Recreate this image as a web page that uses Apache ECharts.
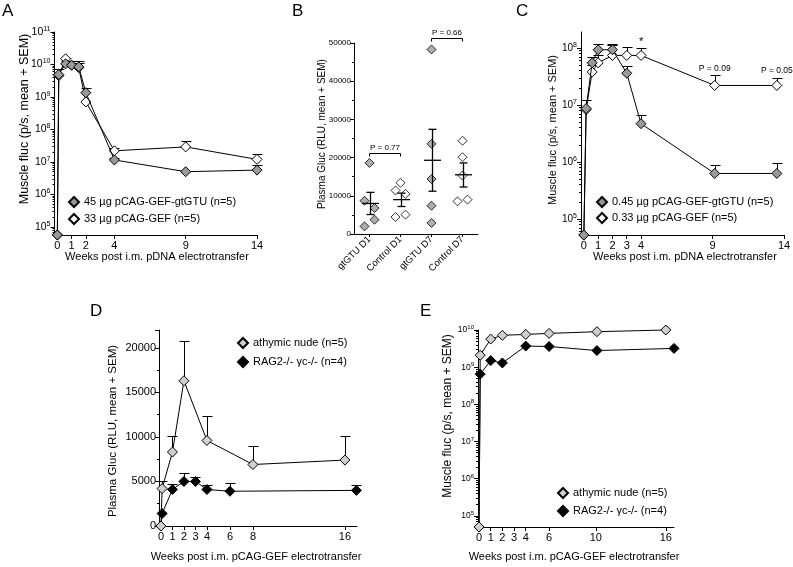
<!DOCTYPE html>
<html><head><meta charset="utf-8">
<script src="https://cdn.jsdelivr.net/npm/echarts@6/dist/echarts.min.js"></script>
<style>html,body{margin:0;padding:0;background:#fff}#c{width:793px;height:567px}</style>
</head><body><div id="c"></div>
<script>
const FONT = '"Liberation Sans", Arial, Helvetica, sans-serif';

// ---------- Panel A ----------
const aWeeks = [0, 0.1, 0.58, 1, 1.5, 2, 4, 9, 14];
const aGtgtuMean  = [0, 4.9e9, 1.05e10, 9.5e9, 8.5e9, 1.35e9, 1.15e7, 5.0e6, 5.6e6];
const aGtgtuUpper = [null, 7.4e9, 1.25e10, 1.3e10, 1.3e10, 1.9e9, 1.35e7, 5.4e6, 8.0e6];
const aGefMean    = [0, 4.5e9, 1.5e10, 9.5e9, 8.0e9, 7.0e8, 2.2e7, 2.9e7, 1.2e7];
const aGefUpper   = [null, null, 1.6e10, null, 1.1e10, null, 2.6e7, 4.5e7, 1.7e7];
const aXTicks = [0, 1, 2, 4, 9, 14];
const aNames = ['45 \u00b5g pCAG-GEF-gtGTU (n=5)', '33 \u00b5g pCAG-GEF (n=5)'];

// ---------- Panel B ----------
const bCategories = ['gtGTU D1', 'Control D1', 'gtGTU D7', 'Control D7'];
const bGtgtuD1   = [18600, 8700, 6800, 3750, 2000];
const bControlD1 = [13400, 11400, 10500, 4450, 5060];
const bGtgtuD7   = [48300, 23600, 14400, 7400, 2900];
const bControlD7 = [24400, 20100, 15300, 8550, 9000];
const bJitterD1G = [0, -5, 5, 5, -5];
const bJitterD1C = [0, -5, 5, -5, 5];
const bJitterD7G = [0, 0, 0, 0, 0];
const bJitterD7C = [0, 0, 0, -5, 5];
const bMean    = [8000, 9000, 19300, 15500];
const bSemLow  = [5100, 7200, 11200, 12300];
const bSemHigh = [10900, 10700, 27400, 18600];
const bPvalues = [['gtGTU D1', 'Control D1', 21200, 'P = 0.77'], ['gtGTU D7', 'Control D7', 51400, 'P = 0.66']];

// ---------- Panel C ----------
const cWeeks = [0, 0.16, 0.58, 1, 2, 3, 4, 9.15, 13.5];
const cGtgtuMean  = [0, 8.7e6, 5.5e7, 9.3e7, 9.3e7, 3.6e7, 4.7e6, 6.3e5, 6.3e5];
const cGtgtuUpper = [null, 1.2e7, 7.0e7, 1.18e8, 1.18e8, 4.8e7, 6.6e6, 8.9e5, 9.5e5];
const cGefMean    = [0, 8.3e6, 3.8e7, 5.5e7, 7.4e7, 7.4e7, 7.4e7, 2.2e7, 2.2e7];
const cGefUpper   = [null, null, 5.0e7, 7.5e7, 1.15e8, 1.05e8, 1.0e8, 3.4e7, 3.0e7];
const cXTicks = [0, 1, 2, 3, 4, 9, 14];
const cNames = ['0.45 \u00b5g pCAG-GEF-gtGTU (n=5)', '0.33 \u00b5g pCAG-GEF (n=5)'];
const cNotes = [[4, 1.3e8, '*'], [9.15, 4.4e7, 'P = 0.09'], [13.5, 4.0e7, 'P = 0.05']];

// ---------- Panel D ----------
const dNudeWeeks = [0, 0.1, 1, 2, 4, 8, 16];
const dNudeMean  = [0, 4200, 8300, 16300, 9600, 6900, 7400];
const dNudeUpper = [null, 5000, 10100, 20800, 12400, 9000, 10100];
const dRagWeeks  = [0, 0.1, 1, 2, 3, 4, 6, 17];
const dRagMean   = [0, 1400, 4100, 5000, 5000, 4100, 3900, 4000];
const dRagUpper  = [null, null, 4700, 6000, 5500, 4550, 4800, 4600];
const dXTicks = [0, 1, 2, 3, 4, 6, 8, 16];

// ---------- Panel E ----------
const eNudeWeeks = [0, 0.1, 1, 2, 4, 6, 10.1, 16];
const eNudeMean  = [0, 2.1e9, 5.7e9, 7.2e9, 7.6e9, 8.1e9, 9.0e9, 1.0e10];
const eRagWeeks  = [0, 0.1, 1, 2, 4, 6, 10.1, 16.7];
const eRagMean   = [0, 6.5e8, 1.5e9, 1.3e9, 3.7e9, 3.6e9, 2.8e9, 3.2e9];
const eXTicks = [0, 1, 2, 3, 4, 6, 10, 16];
const deNames = ['athymic nude (n=5)', 'RAG2-/- \u03b3c-/- (n=4)'];

// ---------- builders ----------
const GRAY = '#9a9a9a', LIGHT = '#cfcfcf', WHITE = '#ffffff', BLACK = '#000000';
const axisLineStyle = {color: '#000', width: 1};

function pairs(xs, ys, floor) {
  return xs.map((x, i) => [x, (floor && ys[i] <= 0) ? floor : ys[i]]);
}
function xVal(gi, min, max, ticks, fs) {
  return {type: 'value', gridIndex: gi, min, max, splitLine: {show: false},
    axisLine: {show: true, onZero: false, lineStyle: axisLineStyle},
    axisTick: {show: true, length: 4, customValues: ticks, lineStyle: {color: '#000'}},
    axisLabel: {customValues: ticks, fontSize: fs, fontFamily: FONT, color: '#000', margin: 5, formatter: v => String(v)}};
}
function logY(gi, lo, hi, fs, sfs) {
  const min = Math.pow(10, lo), max = Math.pow(10, hi);
  const majors = [], minors = [];
  for (let d = Math.ceil(lo); d <= Math.floor(hi); d++) majors.push(Math.pow(10, d));
  for (let d = Math.floor(lo); d < Math.ceil(hi); d++)
    for (let k = 2; k <= 9; k++) { const v = k * Math.pow(10, d); if (v > min && v < max) minors.push(v); }
  const base = {type: 'log', logBase: 10, gridIndex: gi, min, max, position: 'left', splitLine: {show: false}};
  return [
    Object.assign({}, base, {
      axisLine: {show: true, onZero: false, lineStyle: axisLineStyle},
      axisTick: {show: true, length: 4, customValues: majors, lineStyle: {color: '#000'}},
      axisLabel: {customValues: majors, margin: 4,
        formatter: v => '{b|10}{s|' + Math.round(Math.log10(v)) + '}',
        rich: {b: {fontSize: fs, fontFamily: FONT, color: '#000'},
               s: {fontSize: sfs, fontFamily: FONT, color: '#000', padding: [0, 0, Math.round(fs * 0.6), 0]}}}
    }),
    Object.assign({}, base, {
      axisLine: {show: false, onZero: false},
      axisTick: {show: true, length: 2, customValues: minors, lineStyle: {color: '#000'}},
      axisLabel: {show: false}
    })
  ];
}
function lineSeries(name, xi, yi, data, fill, z, size) {
  return {type: 'line', name, xAxisIndex: xi, yAxisIndex: yi, data, symbol: 'diamond',
    symbolSize: size || 10, z, animation: false, silent: true, clip: false,
    lineStyle: {color: '#000', width: 1},
    itemStyle: {color: fill, borderColor: '#000', borderWidth: 1}};
}
function errSeries(xi, yi, xs, means, uppers, capHalf, floor) {
  const data = [];
  xs.forEach((x, i) => { if (uppers[i] != null) data.push([x, means[i] || floor, uppers[i]]); });
  return {type: 'custom', xAxisIndex: xi, yAxisIndex: yi, data, z: 1, silent: true, animation: false,
    encode: {x: 0, y: [1, 2]},
    renderItem(params, api) {
      const p1 = api.coord([api.value(0), api.value(1)]);
      const p2 = api.coord([api.value(0), api.value(2)]);
      const x = Math.round(p1[0]) + 0.5, y2 = Math.round(p2[1]) + 0.5;
      return {type: 'group', children: [
        {type: 'line', shape: {x1: x, y1: p1[1], x2: x, y2: y2}, style: {stroke: '#000', lineWidth: 1}},
        {type: 'line', shape: {x1: x - capHalf, y1: y2, x2: x + capHalf, y2: y2}, style: {stroke: '#000', lineWidth: 1}}
      ]};
    }};
}
function legend(names, left, top, fs, gap) {
  return {data: names, left, top, orient: 'vertical', icon: 'diamond', itemWidth: 10, itemHeight: 10,
    itemGap: gap, selectedMode: false, padding: 0,
    textStyle: {fontSize: fs, fontFamily: FONT, color: '#000', lineHeight: 12}};
}
function text(str, x, y, size, rot, align) {
  return {type: 'text', x, y, rotation: rot || 0, silent: true,
    style: {text: str, fill: '#000', font: size + 'px ' + FONT, align: align || 'center', verticalAlign: 'middle'}};
}

const ALO = 4.75, CLO = 4.72, ELO = 4.7;
const aFloor = Math.pow(10, ALO), cFloor = Math.pow(10, CLO), eFloor = Math.pow(10, ELO);

const yA = logY(0, ALO, 11, 10.5, 7);
const yC = logY(2, CLO, 8.28, 10, 7);
const yE = logY(4, ELO, 10, 8.5, 6);

const option = {
  backgroundColor: '#fff',
  animation: false,
  grid: [
    {left: 54.5, top: 32, width: 202.5, height: 203, outerBoundsMode: 'none'},
    {left: 354, top: 43, width: 124, height: 191, outerBoundsMode: 'none'},
    {left: 581, top: 32, width: 203, height: 203, outerBoundsMode: 'none'},
    {left: 159, top: 330, width: 198, height: 196, outerBoundsMode: 'none'},
    {left: 478, top: 330, width: 196, height: 197, outerBoundsMode: 'none'}
  ],
  xAxis: [
    xVal(0, -0.2, 14, aXTicks, 11),
    {type: 'category', gridIndex: 1, data: bCategories, boundaryGap: true,
      axisLine: {show: true, onZero: false, lineStyle: axisLineStyle},
      axisTick: {show: true, alignWithLabel: true, length: 3, lineStyle: {color: '#000'}},
      axisLabel: {rotate: 45, fontSize: 9.5, fontFamily: FONT, color: '#000', margin: 4, interval: 0}},
    xVal(2, -0.2, 14, cXTicks, 11),
    xVal(3, -0.17, 17.05, dXTicks, 11),
    xVal(4, -0.09, 16.7, eXTicks, 11)
  ],
  yAxis: [
    yA[0], yA[1],
    {type: 'value', gridIndex: 1, min: 0, max: 50000, interval: 10000, position: 'left', splitLine: {show: false},
      axisLine: {show: true, onZero: false, lineStyle: axisLineStyle},
      axisTick: {show: true, length: 4, lineStyle: {color: '#000'}},
      minorTick: {show: true, splitNumber: 2, length: 2, lineStyle: {color: '#000'}},
      axisLabel: {fontSize: 8, fontFamily: FONT, color: '#000', margin: 3, formatter: v => String(v)}},
    yC[0], yC[1],
    {type: 'value', gridIndex: 3, min: 0, max: 22000, interval: 5000, position: 'left', splitLine: {show: false},
      axisLine: {show: true, onZero: false, lineStyle: axisLineStyle},
      axisTick: {show: true, length: 4, lineStyle: {color: '#000'}},
      minorTick: {show: true, splitNumber: 2, length: 2, lineStyle: {color: '#000'}},
      axisLabel: {fontSize: 11, fontFamily: FONT, color: '#000', margin: 3, showMaxLabel: false, formatter: v => String(v)}},
    yE[0], yE[1]
  ],
  legend: [
    legend(aNames, 68, 196, 11, 5),
    legend(cNames, 596, 196, 11, 4),
    legend(deNames, 237, 337, 11, 7),
    legend(deNames, 557, 487, 11, 6)
  ],
  series: [
    // A
    errSeries(0, 0, aWeeks, aGefMean, aGefUpper, 5, aFloor),
    errSeries(0, 0, aWeeks, aGtgtuMean, aGtgtuUpper, 5, aFloor),
    lineSeries(aNames[1], 0, 0, pairs(aWeeks, aGefMean, aFloor), WHITE, 3),
    lineSeries(aNames[0], 0, 0, pairs(aWeeks, aGtgtuMean, aFloor), GRAY, 4),
    // B
    {type: 'custom', xAxisIndex: 1, yAxisIndex: 2, silent: true, z: 5,
      data: bCategories.map((c, i) => [i, bMean[i], bSemLow[i], bSemHigh[i]]),
      encode: {x: 0, y: [1, 2, 3]},
      renderItem(params, api) {
        const m = api.coord([api.value(0), api.value(1)]);
        const lo = api.coord([api.value(0), api.value(2)]);
        const hi = api.coord([api.value(0), api.value(3)]);
        const x = Math.round(m[0]) + 0.5;
        const st = {stroke: '#000', lineWidth: 1.3};
        return {type: 'group', children: [
          {type: 'line', shape: {x1: x - 8.5, y1: m[1], x2: x + 8.5, y2: m[1]}, style: st},
          {type: 'line', shape: {x1: x, y1: lo[1], x2: x, y2: hi[1]}, style: st},
          {type: 'line', shape: {x1: x - 4, y1: lo[1], x2: x + 4, y2: lo[1]}, style: st},
          {type: 'line', shape: {x1: x - 4, y1: hi[1], x2: x + 4, y2: hi[1]}, style: st}
        ]};
      }},
    {type: 'custom', xAxisIndex: 1, yAxisIndex: 2, silent: true, z: 5,
      data: bPvalues.map(p => [bCategories.indexOf(p[0]), bCategories.indexOf(p[1]), p[2], p[3]]),
      encode: {x: [0, 1], y: 2},
      renderItem(params, api) {
        const a = api.coord([api.value(0), api.value(2)]);
        const b = api.coord([api.value(1), api.value(2)]);
        const y = Math.round(a[1]) + 0.5;
        return {type: 'group', children: [
          {type: 'polyline', shape: {points: [[a[0], y + 3], [a[0], y], [b[0], y], [b[0], y + 3]]},
            style: {stroke: '#000', lineWidth: 1, fill: null}},
          {type: 'text', x: (a[0] + b[0]) / 2, y: y - 6,
            style: {text: api.value(3), fill: '#000', font: '8px ' + FONT, align: 'center', verticalAlign: 'middle'}}
        ]};
      }},
    ...[[bGtgtuD1, bJitterD1G, GRAY], [bControlD1, bJitterD1C, WHITE], [bGtgtuD7, bJitterD7G, GRAY], [bControlD7, bJitterD7C, WHITE]]
      .map((g, ci) => ({type: 'scatter', xAxisIndex: 1, yAxisIndex: 2, symbol: 'diamond', symbolSize: 9, z: 4, silent: true,
        itemStyle: {color: g[2], borderColor: '#000', borderWidth: 1},
        data: g[0].map((v, i) => ({value: [ci, v], symbolOffset: [g[1][i], 0]}))})),
    // C
    errSeries(2, 3, cWeeks, cGefMean, cGefUpper, 5, cFloor),
    errSeries(2, 3, cWeeks, cGtgtuMean, cGtgtuUpper, 5, cFloor),
    lineSeries(cNames[1], 2, 3, pairs(cWeeks, cGefMean, cFloor), WHITE, 3),
    lineSeries(cNames[0], 2, 3, pairs(cWeeks, cGtgtuMean, cFloor), GRAY, 4),
    {type: 'custom', xAxisIndex: 2, yAxisIndex: 3, silent: true, z: 5, data: cNotes,
      encode: {x: 0, y: 1},
      renderItem(params, api) {
        const p = api.coord([api.value(0), api.value(1)]);
        const t = api.value(2);
        return {type: 'text', x: p[0], y: p[1],
          style: {text: t, fill: '#000', font: (t === '*' ? 11 : 8.5) + 'px ' + FONT, align: 'center', verticalAlign: 'middle'}};
      }},
    // D
    errSeries(3, 5, dRagWeeks, dRagMean, dRagUpper, 5, 0),
    errSeries(3, 5, dNudeWeeks, dNudeMean, dNudeUpper, 5, 0),
    lineSeries(deNames[1], 3, 5, pairs(dRagWeeks, dRagMean), BLACK, 3),
    lineSeries(deNames[0], 3, 5, pairs(dNudeWeeks, dNudeMean), LIGHT, 4),
    // E
    lineSeries(deNames[1], 4, 6, pairs(eRagWeeks, eRagMean, eFloor), BLACK, 3),
    lineSeries(deNames[0], 4, 6, pairs(eNudeWeeks, eNudeMean, eFloor), LIGHT, 4)
  ],
  graphic: [
    text('A', 2, 11, 17, 0, 'left'),
    text('B', 292, 11, 17, 0, 'left'),
    text('C', 516, 11, 17, 0, 'left'),
    text('D', 90, 311, 17, 0, 'left'),
    text('E', 420, 311, 17, 0, 'left'),
    text('Muscle fluc (p/s, mean + SEM)', 25, 119, 12.5, Math.PI / 2),
    text('Weeks post i.m. pDNA electrotransfer', 157, 257, 11),
    text('Plasma Gluc (RLU, mean + SEM)', 322, 134, 10, Math.PI / 2),
    text('Muscle fluc (p/s, mean + SEM)', 553, 130, 11, Math.PI / 2),
    text('Weeks post i.m. pDNA electrotransfer', 685, 257, 11),
    text('Plasma Gluc (RLU, mean + SEM)', 113, 431, 11.5, Math.PI / 2),
    text('Weeks post i.m. pCAG-GEF electrotransfer', 256, 557, 11),
    text('Muscle fluc (p/s, mean + SEM)', 448, 416, 12, Math.PI / 2),
    text('Weeks post i.m. pCAG-GEF electrotransfer', 574, 557, 11)
  ]
};
const chart = echarts.init(document.getElementById('c'), null, {renderer: 'canvas', width: 793, height: 567});
chart.setOption(option);
</script>
</body></html>
